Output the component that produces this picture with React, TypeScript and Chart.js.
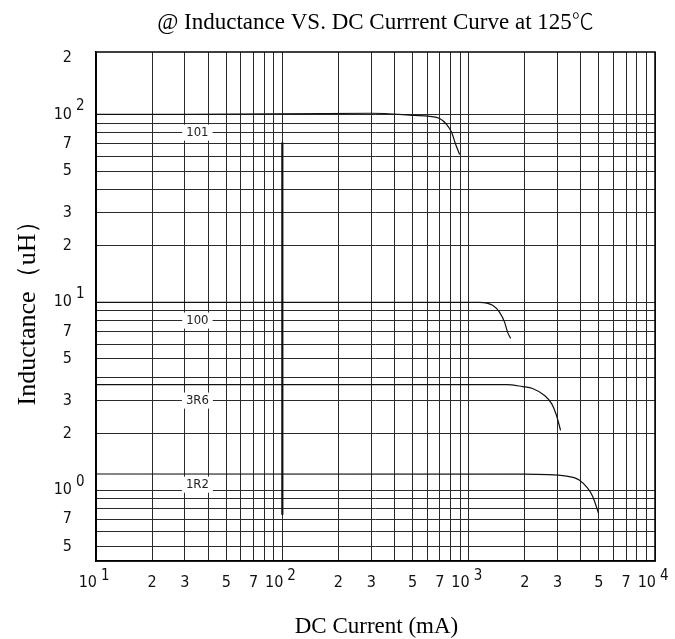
import React, { useEffect, useRef } from "react";
import { Chart, registerables } from "chart.js";

Chart.register(...registerables);

// ---- data ----
const curve101X = [10, 30, 300, 513, 618, 699, 762, 811, 852, 895];
const curve101Y = [100, 100, 101.5, 98.8, 97.6, 95.2, 88.4, 80.2, 69.2, 61.2];

const curve100X = [10, 1146, 1345, 1466, 1560, 1619, 1680];
const curve100Y = [10, 10, 9.64, 8.84, 7.82, 6.92, 6.43];

const curve3R6X = [10, 1600, 1949, 2203, 2556, 2788, 2962, 3113];
const curve3R6Y = [3.65, 3.65, 3.56, 3.48, 3.19, 2.89, 2.5, 2.08];

const curve1R2X = [10, 1949, 3353, 3936, 4349, 4624, 4979];
const curve1R2Y = [1.22, 1.217, 1.188, 1.131, 1.025, 0.929, 0.754];

const markX = [100, 100];
const markY = [71, 0.74];

const seriesNames = ["101", "100", "3R6", "1R2"];
const seriesLabelX = [35, 35, 35, 35];
const seriesLabelY = [80, 8, 3, 1.07];

const xGridValues = [
  10, 20, 30, 40, 50, 60, 70, 80, 90, 100, 200, 300, 400, 500, 600, 700, 800, 900,
  1000, 2000, 3000, 4000, 5000, 6000, 7000, 8000, 9000, 10000,
];
const yGridValues = [
  0.5, 0.6, 0.7, 0.8, 0.9, 1, 2, 3, 4, 5, 6, 7, 8, 9, 10, 20, 30, 40, 50, 60, 70, 80, 90, 100,
];
const xTickValues = [10, 20, 30, 50, 70, 100, 200, 300, 500, 700, 1000, 2000, 3000, 5000, 7000, 10000];
const xTickLabels = ["10|1", "2", "3", "5", "7", "10|2", "2", "3", "5", "7", "10|3", "2", "3", "5", "7", "10|4"];
const yTickValues = [200, 100, 70, 50, 30, 20, 10, 7, 5, 3, 2, 1, 0.7, 0.5];
const yTickLabels = ["2", "10|2", "7", "5", "3", "2", "10|1", "7", "5", "3", "2", "10|0", "7", "5"];

const titleText = "@ Inductance VS. DC Currrent Curve at 125";
const titleUnit = "℃";
const xTitle = "DC Current (mA)";
const yTitle = "Inductance（uH）";

const X_MIN = 10;
const X_MAX = 10000;
const Y_MIN = 0.42;
const Y_MAX = 215;

const pts = (xs: number[], ys: number[]) => xs.map((x, i) => ({ x, y: ys[i] }));

const SANS = '"Liberation Sans Narrow", "DejaVu Sans Condensed", "Roboto", sans-serif';
const TICK_FONT = "16px " + SANS;
const SUP_FONT = "15px " + SANS;
const LABEL_FONT = "13px " + SANS;
const SERIF = '"Liberation Serif", "Times New Roman", serif';

const drawPlugin = {
  id: "customDraw",
  afterDatasetsDraw(chart: any) {
    const ctx = chart.ctx;
    const xs = chart.scales.x;
    const ys = chart.scales.y;
    const area = chart.chartArea;
    ctx.save();

    // frame
    ctx.strokeStyle = "#000";
    ctx.lineWidth = 1.5;
    ctx.strokeRect(area.left, area.top, area.right - area.left, area.bottom - area.top);

    // series labels with white background
    ctx.font = LABEL_FONT;
    ctx.textAlign = "center";
    ctx.textBaseline = "middle";
    seriesNames.forEach((name, i) => {
      const px = xs.getPixelForValue(seriesLabelX[i]);
      const py = ys.getPixelForValue(seriesLabelY[i]);
      const w = ctx.measureText(name).width + 8;
      ctx.fillStyle = "#fff";
      ctx.fillRect(px - w / 2, py - 8, w, 16);
      ctx.fillStyle = "#222";
      ctx.fillText(name, px, py);
    });

    // x tick labels
    ctx.fillStyle = "#111";
    ctx.textBaseline = "middle";
    xTickValues.forEach((v, i) => {
      const px = xs.getPixelForValue(v);
      const lab = xTickLabels[i];
      const py = area.bottom + 22;
      if (lab.includes("|")) {
        const [base, exp] = lab.split("|");
        ctx.font = TICK_FONT;
        ctx.textAlign = "right";
        ctx.fillText(base, px + 1, py);
        ctx.font = SUP_FONT;
        ctx.textAlign = "left";
        ctx.fillText(exp, px + 5, py - 7);
      } else {
        ctx.font = TICK_FONT;
        ctx.textAlign = "center";
        ctx.fillText(lab, px, py);
      }
    });

    // y tick labels
    yTickValues.forEach((v, i) => {
      const py = ys.getPixelForValue(v);
      const lab = yTickLabels[i];
      const rx = area.left - 24;
      if (lab.includes("|")) {
        const [base, exp] = lab.split("|");
        ctx.font = TICK_FONT;
        ctx.textAlign = "right";
        ctx.fillText(base, rx, py);
        ctx.font = SUP_FONT;
        ctx.textAlign = "left";
        ctx.fillText(exp, rx + 4, py - 8);
      } else {
        ctx.font = TICK_FONT;
        ctx.textAlign = "right";
        ctx.fillText(lab, rx, py);
      }
    });

    // titles
    ctx.fillStyle = "#000";
    ctx.textBaseline = "alphabetic";
    const cx = (area.left + area.right) / 2;
    ctx.font = "23px " + SERIF;
    const tw = ctx.measureText(titleText).width;
    ctx.font = '300 22px "Noto Sans CJK SC", sans-serif';
    const uw = ctx.measureText(titleUnit).width;
    const startX = cx - (tw + uw) / 2;
    ctx.textAlign = "left";
    ctx.font = "23px " + SERIF;
    ctx.fillText(titleText, startX, 29);
    ctx.font = '300 22px "Noto Sans CJK SC", sans-serif';
    ctx.fillText(titleUnit, startX + tw, 29);

    ctx.textAlign = "center";
    ctx.font = "23px " + SERIF;
    ctx.fillText(xTitle, cx + 1, 633);

    ctx.save();
    ctx.translate(35, (area.top + area.bottom) / 2);
    ctx.rotate(-Math.PI / 2);
    ctx.font = "26px " + SERIF;
    ctx.fillText(yTitle, 0, 0);
    ctx.restore();

    ctx.restore();
  },
};

export default function App() {
  const ref = useRef<HTMLCanvasElement | null>(null);

  useEffect(() => {
    if (!ref.current) return;
    const lineDs = (label: string, xs: number[], ys: number[], width = 1.2) => ({
      label,
      data: pts(xs, ys),
      borderColor: "#111",
      backgroundColor: "#111",
      borderWidth: width,
      pointRadius: 0,
      fill: false,
      cubicInterpolationMode: "monotone" as const,
    });
    const chart = new Chart(ref.current, {
      type: "line",
      data: {
        datasets: [
          lineDs("101", curve101X, curve101Y),
          lineDs("100", curve100X, curve100Y),
          lineDs("3R6", curve3R6X, curve3R6Y),
          lineDs("1R2", curve1R2X, curve1R2Y),
          lineDs("mark", markX, markY, 2.2),
        ],
      },
      options: {
        animation: false,
        responsive: true,
        maintainAspectRatio: false,
        layout: { padding: { left: 96, top: 52, right: 20, bottom: 78 } },
        plugins: {
          legend: { display: false },
          tooltip: { enabled: false },
          title: { display: false },
        },
        scales: {
          x: {
            type: "logarithmic",
            min: X_MIN,
            max: X_MAX,
            afterBuildTicks: (scale: any) => {
              scale.ticks = xGridValues.map((v) => ({ value: v }));
            },
            ticks: { display: false },
            grid: { color: "#2a2a2a", lineWidth: 1, drawTicks: false },
            border: { display: true, color: "#000", width: 1.5 },
          },
          y: {
            type: "logarithmic",
            min: Y_MIN,
            max: Y_MAX,
            afterBuildTicks: (scale: any) => {
              scale.ticks = yGridValues.map((v) => ({ value: v }));
            },
            ticks: { display: false },
            grid: { color: "#2a2a2a", lineWidth: 1, drawTicks: false },
            border: { display: true, color: "#000", width: 1.5 },
          },
        },
      },
      plugins: [drawPlugin],
    });
    return () => chart.destroy();
  }, []);

  return (
    <div style={{ position: "fixed", left: 0, top: 0, width: 675, height: 639, background: "#fff" }}>
      <canvas ref={ref} />
    </div>
  );
}
